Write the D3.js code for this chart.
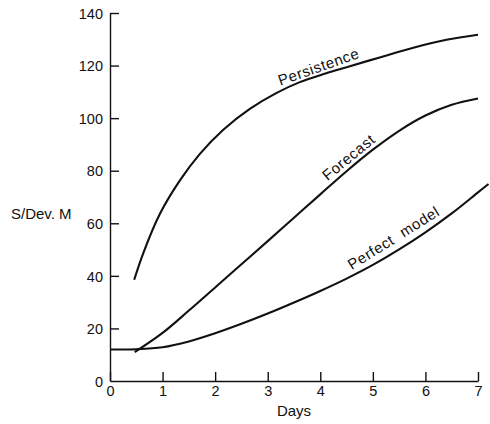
<!DOCTYPE html>
<html>
<head>
<meta charset="utf-8">
<script src="https://cdn.jsdelivr.net/npm/d3@7"></script>
<style>
  body { margin: 0; background: #fff; }
  text { font-family: "Liberation Sans", Arial, sans-serif; fill: #111; }
</style>
</head>
<body>
<svg id="chart"></svg>
<script>
// S/Dev. M by forecast day
const persistenceDays   = [0.46, 0.63, 0.95, 1.33, 1.71, 2.15, 2.66, 3.17, 3.61, 4.1, 4.5, 5.13, 5.77, 6.4, 7];
const persistenceValues = [38.5, 48.5, 63.6, 76.3, 86.4, 95.5, 103.5, 109.6, 113.7, 117, 119.4, 123.1, 126.8, 129.8, 131.7];

const forecastDays   = [0.47, 1, 1.5, 2, 2.5, 3, 3.5, 4, 4.5, 5, 5.5, 6, 6.5, 7];
const forecastValues = [11, 18.3, 26.8, 35.6, 44.4, 53.2, 62.1, 71, 79.8, 88, 95.2, 101, 105.1, 107.5];

const perfectDays   = [0, 0.5, 1, 1.5, 2, 2.5, 3, 3.5, 4, 4.5, 5, 5.5, 6, 6.5, 7, 7.2];
const perfectValues = [12, 12.1, 12.85, 15.05, 18.15, 21.75, 25.65, 29.85, 34.25, 38.95, 44.15, 50.05, 56.55, 63.75, 71.75, 74.95];

const xTicks = [0, 1, 2, 3, 4, 5, 6, 7];
const yTicks = [0, 20, 40, 60, 80, 100, 120, 140];

// label text and the stretch of days it sits over
const labelNames = ["Persistence", "Forecast", "Perfect  model"];
const labelFrom  = [3.27, 4.2, 4.65];
const labelTo    = [4.7, 5.15, 6.45];

const width = 490, height = 424;

const svg = d3.select("#chart")
  .attr("width", width)
  .attr("height", height)
  .attr("viewBox", [0, 0, width, height]);

const x = d3.scaleLinear().domain([0, 7]).range([110, 478]);
const y = d3.scaleLinear().domain([0, 140]).range([381, 13]);

// axes
const xAxis = svg.append("g")
  .attr("transform", `translate(0,${y(0)})`)
  .call(d3.axisBottom(x).tickValues(xTicks).tickFormat(d3.format("d"))
    .tickSize(-9).tickPadding(5).tickSizeOuter(0));

const yAxis = svg.append("g")
  .attr("transform", `translate(${x(0)},0)`)
  .call(d3.axisLeft(y).tickValues(yTicks).tickFormat(d3.format("d"))
    .tickSize(-9).tickPadding(7).tickSizeOuter(0));

[xAxis, yAxis].forEach(a => {
  a.select(".domain").attr("stroke", "#111").attr("stroke-width", 1.4);
  a.selectAll(".tick line").attr("stroke", "#111").attr("stroke-width", 1.4);
  a.selectAll(".tick text")
    .attr("fill", "#111")
    .style("font-size", "14.5px")
    .style("font-family", "'Liberation Sans', Arial, sans-serif");
});
yAxis.selectAll(".tick text").attr("dy", "0.36em");
// no inner tick on the 0 of the y axis
yAxis.selectAll(".tick").filter(d => d === 0).select("line").remove();

svg.append("text")
  .attr("x", 11)
  .attr("y", 219)
  .style("font-size", "15px")
  .text("S/Dev. M");

svg.append("text")
  .attr("x", (x(0) + x(7)) / 2)
  .attr("y", 416)
  .attr("text-anchor", "middle")
  .style("font-size", "15px")
  .text("Days");

// curves
const line = d3.line()
  .x(d => x(d[0]))
  .y(d => y(d[1]))
  .curve(d3.curveCatmullRom.alpha(0.5));

const series = [
  d3.zip(persistenceDays, persistenceValues),
  d3.zip(forecastDays, forecastValues),
  d3.zip(perfectDays, perfectValues)
];

svg.append("g")
  .selectAll("path")
  .data(series)
  .join("path")
    .attr("fill", "none")
    .attr("stroke", "#111")
    .attr("stroke-width", 2.1)
    .attr("stroke-linejoin", "round")
    .attr("d", line);

// value on a series at a given day (straight read between points)
function valueAt(s, day) {
  const i = d3.bisector(d => d[0]).right(s, day);
  const a = s[Math.max(0, i - 1)], b = s[Math.min(s.length - 1, i)];
  if (a === b) return a[1];
  return a[1] + (b[1] - a[1]) * (day - a[0]) / (b[0] - a[0]);
}

labelNames.forEach((name, i) => {
  const s = series[i];
  const x0 = x(labelFrom[i]), y0 = y(valueAt(s, labelFrom[i]));
  const x1 = x(labelTo[i]), y1 = y(valueAt(s, labelTo[i]));
  const angle = Math.atan2(y1 - y0, x1 - x0) * 180 / Math.PI;
  svg.append("text")
    .attr("transform", `translate(${x0},${y0}) rotate(${angle})`)
    .attr("dy", -5)
    .style("font-size", "15px")
    .style("letter-spacing", "0.6px")
    .style("white-space", "pre")
    .text(name);
});
</script>
</body>
</html>
